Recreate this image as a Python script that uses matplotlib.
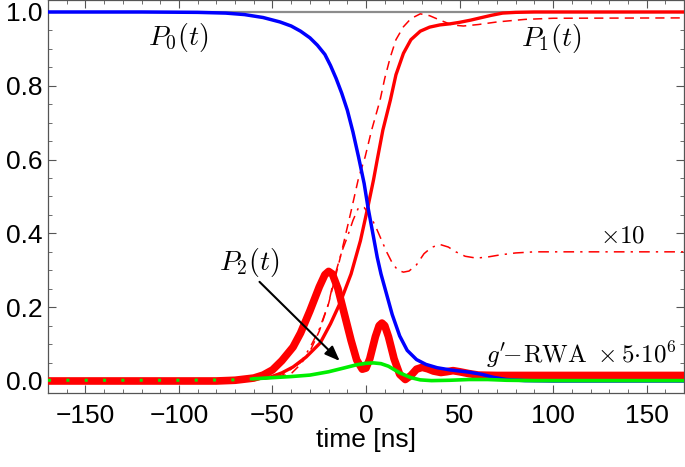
import numpy as np
import matplotlib
matplotlib.use('Agg')
import matplotlib.pyplot as plt
from matplotlib.ticker import MultipleLocator

plt.rcParams['mathtext.fontset'] = 'cm'
plt.rcParams['font.family'] = ['Liberation Sans', 'DejaVu Sans']

# P0(t), blue
t_p0 = [-170, -120, -90, -75, -65, -55, -46, -40, -35, -30, -26, -22, -19, -16, -13, -10, -7, -4, -1, 1,
        4, 6, 8, 11, 14, 18, 22, 27, 32, 38, 45, 55, 62, 68, 75, 85, 100, 170]
p0 = [1.0, 1.0, 0.999, 0.997, 0.993, 0.985, 0.973, 0.962, 0.948, 0.93, 0.91, 0.885, 0.855, 0.82, 0.78,
      0.734, 0.675, 0.607, 0.535, 0.472, 0.39, 0.335, 0.29, 0.235, 0.18, 0.122, 0.083, 0.058, 0.045,
      0.036, 0.03, 0.024, 0.018, 0.01, 0.004, 0.001, 0.0, 0.0]

# P1(t), red solid
t_p1 = [-170, -80, -65, -58, -51, -45, -39, -32, -24.5, -19, -14, -8, -3, 1, 4, 6, 9, 13, 16, 20, 24,
        29, 34, 39.5, 45, 50, 56, 61, 67, 73, 80, 90, 170]
p1 = [0.003, 0.003, 0.004, 0.006, 0.011, 0.022, 0.038, 0.065, 0.103, 0.155, 0.21, 0.29, 0.38, 0.472,
      0.545, 0.6, 0.68, 0.761, 0.83, 0.888, 0.925, 0.948, 0.959, 0.965, 0.968, 0.972, 0.978, 0.984,
      0.991, 0.997, 0.999, 1.0, 1.0]

# P1(t) other approximation, red dashed
t_p1d = [-170, -70, -55, -47, -40, -35, -30, -25, -20, -14, -8, -4, -0.5, 3, 7.5, 10, 13, 16, 20, 24,
         29, 34, 39.5, 46, 52, 60, 70, 85, 100, 170]
p1d = [0.003, 0.003, 0.005, 0.01, 0.02, 0.045, 0.08, 0.135, 0.21, 0.33, 0.46, 0.55, 0.607, 0.68, 0.761,
       0.82, 0.878, 0.925, 0.96, 0.982, 0.995, 0.99, 0.978, 0.965, 0.962, 0.966, 0.973, 0.98, 0.983, 0.984]

# x10 curve, red dash-dot
t_x10 = [-170, -70, -55, -45, -35, -30, -25, -20, -17, -13, -10, -7, -4, -1, 2, 5, 8, 11, 14, 17, 20,
         23, 27, 31, 35, 39.5, 44, 48, 53, 59, 65, 72, 80, 90, 170]
x10 = [0.003, 0.003, 0.006, 0.015, 0.05, 0.09, 0.14, 0.21, 0.28, 0.35, 0.39, 0.435, 0.47, 0.47, 0.45,
       0.42, 0.385, 0.35, 0.32, 0.30, 0.295, 0.298, 0.315, 0.345, 0.362, 0.37, 0.363, 0.35, 0.338, 0.333,
       0.336, 0.342, 0.347, 0.35, 0.35]

# g'-RWA x 5e6, thick red
t_rwa = [-170, -80, -70, -60, -55, -50, -45, -39, -35, -30, -25, -22, -20, -18, -15, -12, -8, -5, -2, 0,
         2, 5, 7, 8.5, 10, 12, 15, 18, 21, 24, 27, 30, 33, 36, 40, 43, 46.5, 50, 55, 60, 70, 170]
rwa = [0.0, 0.0, 0.002, 0.008, 0.016, 0.03, 0.055, 0.092, 0.13, 0.19, 0.255, 0.288, 0.297, 0.29, 0.25,
       0.19, 0.11, 0.057, 0.032, 0.035, 0.06, 0.12, 0.15, 0.157, 0.15, 0.12, 0.06, 0.018, 0.004, 0.015,
       0.032, 0.037, 0.033, 0.027, 0.023, 0.025, 0.028, 0.025, 0.02, 0.016, 0.015, 0.015]

# P2(t), green
t_p2 = [-170, -100, -70, -60, -50, -40, -30, -20, -12, -5, 0, 4, 8, 12, 18, 24, 29, 35, 45, 55, 65, 75,
        90, 170]
p2 = [0.002, 0.002, 0.003, 0.006, 0.009, 0.012, 0.016, 0.025, 0.035, 0.044, 0.048, 0.049, 0.047, 0.04,
      0.022, 0.009, 0.003, 0.001, 0.002, 0.004, 0.004, 0.002, 0.001, 0.001]

fig = plt.figure(figsize=(6.85, 4.67), dpi=100)
ax = fig.add_axes([0.0701, 0.1585, 0.9285, 0.8415])

ax.axhline(1.0, color='#8c8c8c', lw=1.6, zorder=1)
ax.plot(t_p0, p0, color='#0000ff', lw=2.5, zorder=4)
ax.plot(t_rwa, rwa, color='#ff0000', lw=5.5, zorder=3, solid_capstyle='butt')
ax.plot(t_p1, p1, color='#ff0000', lw=2.4, zorder=3)
ax.plot(t_p1d, p1d, color='#ff0000', lw=1.1, ls=(0, (6, 4)), zorder=3)
ax.plot(t_x10, x10, color='#ff0000', lw=1.1, ls=(0, (7, 4, 1.5, 4)), zorder=3)
# green is hidden under the red band on the left, only specks show
t_p2 = np.array(t_p2); p2 = np.array(p2)
left = t_p2 <= -60
right = t_p2 >= -60
ax.plot(t_p2[right], p2[right], color='#00ee00', lw=2.6, zorder=5)
ax.plot(t_p2[left], p2[left], color='#00ee00', lw=2.2, ls=(0, (1, 5)), zorder=5)

ax.set_xlim(-170, 170)
ax.set_ylim(-0.0325, 1.0325)
ax.xaxis.set_major_locator(MultipleLocator(50))
ax.xaxis.set_minor_locator(MultipleLocator(10))
ax.yaxis.set_major_locator(MultipleLocator(0.2))
ax.yaxis.set_minor_locator(MultipleLocator(0.05))
ax.yaxis.set_major_formatter(plt.FuncFormatter(lambda v, p: '%.1f' % v))
ax.tick_params(which='both', direction='in', top=True, right=True, color='#555555', labelsize=19)
ax.tick_params(which='major', length=6, width=0.8)
ax.tick_params(which='minor', length=3, width=0.6)
ax.tick_params(axis='y', pad=4)
ax.tick_params(axis='x', pad=8)
for s in ax.spines.values():
    s.set_color('#555555')
    s.set_linewidth(0.9)
ax.set_xlabel('time [ns]', fontsize=19, labelpad=0)

ax.text(-100.5, 0.93, r'$P_0(t)$', fontsize=20, ha='center', va='center')
ax.text(99, 0.927, r'$P_1(t)$', fontsize=20, ha='center', va='center')
ax.text(-62.5, 0.322, r'$P_2(t)$', fontsize=20, ha='center', va='center')
ax.text(137, 0.393, r'$\times 10$', fontsize=18, ha='center', va='center')
ax.text(166, 0.07, r"$g'\!\!-\!\mathrm{RWA}\ \times 5{\cdot}10^6$", fontsize=18, ha='right', va='center')
ax.annotate('', xy=(-13, 0.049), xytext=(-58, 0.274),
            arrowprops=dict(arrowstyle='-|>,head_length=0.9,head_width=0.35', color='black', lw=1.5),
            zorder=6)

fig.savefig('out.png', dpi=100)
